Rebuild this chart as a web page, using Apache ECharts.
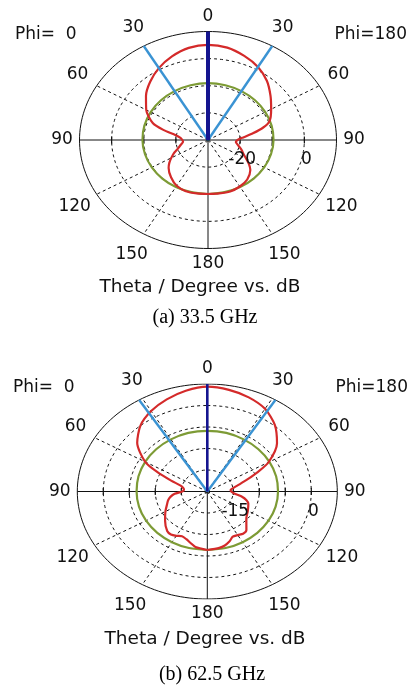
<!DOCTYPE html>
<html>
<head>
<meta charset="utf-8">
<script src="https://cdn.jsdelivr.net/npm/echarts@6/dist/echarts.min.js"></script>
<style>
  html, body { margin: 0; padding: 0; background: #fff; }
  #chart { width: 412px; height: 688px; }
</style>
</head>
<body>
<div id="chart"></div>
<script>
// 刻度与量程（dB）
const minA = -30, maxA = 10;
const ringsA = [-20, -10, 0];
const radialLabelsA = [-20, 0];
const beamA = [-30, 30];
const minB = -20, maxB = 5;
const ringsB = [-15, -10, -5, 0];
const radialLabelsB = [-15, 0];
const beamB = [-31.6, 31.6];
const angleTicks = [0, 30, 60, 90, 120, 150, 180];
const spokeAngles = [30, 60, 120, 150];

// (a) 33.5 GHz 红色方向图，左半 Phi=0，右半 Phi=180
const anglesA = [0, 10, 20, 30, 40, 50, 60, 70, 75, 80, 85, 90, 95, 100, 105, 110, 115, 120, 125, 130, 140, 150, 160, 170, 180];
const redA_phi0 = [5.1, 4.5, 2.8, 0.6, -2.0, -4.8, -7.8, -11.7, -15.6, -19.8, -21.4, -22.0, -22.2, -21.6, -20.8, -19.8, -18.2, -16.8, -15.3, -14.0, -12.1, -10.5, -9.9, -10.0, -10.1];
const redA_phi180 = [5.1, 4.6, 3.0, 1.1, -1.5, -4.6, -7.3, -9.6, -12.2, -15.8, -19.0, -20.8, -21.3, -20.7, -19.8, -18.8, -17.8, -16.3, -14.4, -12.8, -11.0, -10.2, -9.8, -10.0, -10.1];

// (b) 62.5 GHz
const anglesB = [0, 10, 20, 30, 40, 50, 60, 65, 70, 75, 80, 85, 90, 95, 100, 105, 110, 120, 130, 140, 145, 150, 155, 160, 165, 170, 180];
const redB_phi0 = [4.4, 3.8, 2.8, 1.6, 0.0, -2.4, -6.2, -9.5, -12.6, -14.7, -15.3, -15.5, -15.2, -13.7, -12.8, -12.2, -11.8, -10.7, -9.4, -8.0, -7.8, -8.1, -8.5, -8.2, -7.6, -6.9, -6.4];
const redB_phi180 = [4.4, 4.0, 3.3, 2.2, 0.2, -2.5, -6.4, -9.3, -11.8, -13.6, -14.8, -15.5, -15.4, -14.8, -13.3, -12.2, -11.6, -11.0, -10.2, -8.3, -8.0, -8.3, -8.4, -7.6, -7.0, -6.7, -6.4];

// 绿色曲线
const greenAngles = [0, 15, 30, 45, 60, 75, 90, 105, 120, 135, 150, 165, 180];
const greenA = [-9.0, -9.1, -9.2, -9.3, -9.4, -9.5, -9.6, -9.7, -9.8, -9.9, -10.0, -10.1, -10.1];
const greenB = [-5.9, -5.9, -6.0, -6.1, -6.2, -6.3, -6.4, -6.4, -6.4, -6.4, -6.4, -6.4, -6.4];

const chart = echarts.init(document.getElementById('chart'));
const FONT = 'DejaVu Sans, Verdana, sans-serif';
const TXT = '#111';

// 极坐标 -> 直角坐标（角度自上方顺时针，负角在左侧）
function toXY(theta, db, min) {
    const r = Math.max(db - min, 0);
    const t = theta * Math.PI / 180;
    return [r * Math.sin(t), r * Math.cos(t)];
}

function lineSeries(gi, data, lineStyle, z, smooth) {
    return {
        type: 'line', xAxisIndex: gi, yAxisIndex: gi, data: data,
        symbol: 'none', showSymbol: false, silent: true, animation: false,
        smooth: smooth || false, lineStyle: lineStyle, z: z
    };
}

function ringData(v, min) {
    const pts = [];
    for (let a = 0; a <= 360; a += 2) pts.push(toXY(a, v, min));
    return pts;
}

function curveData(angles, left, right, min) {
    const pts = [];
    for (let i = angles.length - 1; i >= 0; i--) pts.push(toXY(-angles[i], left[i], min));
    for (let i = 1; i < angles.length; i++) pts.push(toXY(angles[i], right[i], min));
    return pts;
}

function labelGap(a) {
    const s2 = Math.abs(Math.sin(2 * a * Math.PI / 180));
    const s = Math.sin(a * Math.PI / 180);
    return 15 + 6 * s2 + (a > 90 ? 4 * s2 : 0) + 2.5 * s * s;
}

const labelBase = {
    show: true, position: 'inside', formatter: '{b}', color: TXT, opacity: 1,
    fontSize: 17, fontFamily: FONT, textBorderWidth: 0
};

function buildPlot(gi, min, max, rings, radialLabels, beam, mainW, redAngles, red0, red180, green) {
    const list = [];
    const dashed = { color: '#111', width: 1, type: [3, 3] };
    // 外圈
    list.push(lineSeries(gi, ringData(max, min), { color: '#111', width: 1 }, 1));
    // 虚线圈
    rings.forEach(function (v) {
        list.push(lineSeries(gi, ringData(v, min), dashed, 1));
    });
    // 虚线径向
    spokeAngles.forEach(function (a) {
        [a, -a].forEach(function (t) {
            list.push(lineSeries(gi, [toXY(t, min, min), toXY(t, max, min)], dashed, 1));
        });
    });
    // 坐标轴十字线
    list.push(lineSeries(gi, [toXY(-90, max, min), toXY(90, max, min)], { color: '#111', width: 1 }, 2));
    list.push(lineSeries(gi, [toXY(0, max, min), toXY(180, max, min)], { color: '#111', width: 1 }, 2));
    // 水平轴上刻度
    const ticks = [];
    rings.forEach(function (v) {
        ticks.push(toXY(90, v, min));
        ticks.push(toXY(-90, v, min));
    });
    list.push({
        type: 'scatter', xAxisIndex: gi, yAxisIndex: gi, data: ticks, silent: true, animation: false,
        symbol: 'rect', symbolSize: [1.2, 7], itemStyle: { color: '#111', opacity: 1 }, z: 2
    });
    // 绿色
    list.push(lineSeries(gi, curveData(greenAngles, green, green, min), { color: '#7d9b35', width: 2.2 }, 3, 0.3));
    // 红色
    list.push(lineSeries(gi, curveData(redAngles, red0, red180, min), { color: '#d42a2a', width: 2.2 }, 4, 0.25));
    // 3dB 波束宽度线
    beam.forEach(function (t) {
        list.push(lineSeries(gi, [toXY(0, min, min), toXY(t, max, min)], { color: '#3a93d3', width: 2.4 }, 5));
    });
    // 主瓣方向
    list.push(lineSeries(gi, [toXY(0, min, min), toXY(0, max, min)], { color: '#15158f', width: mainW }, 6));

    // 角度标签
    const angleLabels = [];
    angleTicks.forEach(function (a) {
        const sides = (a === 0 || a === 180) ? [a] : [-a, a];
        sides.forEach(function (t) {
            const g = labelGap(a);
            const rad = t * Math.PI / 180;
            angleLabels.push({
                name: String(a),
                value: toXY(t, max, min),
                label: { offset: [Math.sin(rad) * g, -Math.cos(rad) * g] }
            });
        });
    });
    list.push({
        type: 'scatter', xAxisIndex: gi, yAxisIndex: gi, data: angleLabels, silent: true, animation: false,
        symbolSize: 0, z: 7, itemStyle: { color: TXT, opacity: 1 },
        label: labelBase
    });
    // 径向 dB 标签
    list.push({
        type: 'scatter', xAxisIndex: gi, yAxisIndex: gi, silent: true, animation: false, symbolSize: 0, z: 7,
        itemStyle: { color: TXT, opacity: 1 },
        data: radialLabels.map(function (v) { return { name: String(v), value: toXY(90, v, min) }; }),
        label: Object.assign({}, labelBase, { offset: [2, 20] })
    });
    return list;
}

function text(str, x, y, size, align, family, color) {
    return {
        type: 'text', silent: true,
        style: {
            text: str, x: x, y: y, fill: color || TXT,
            font: size + 'px ' + (family || FONT),
            align: align, textAlign: align, verticalAlign: 'middle', textVerticalAlign: 'middle'
        }
    };
}

const SERIF = '"Liberation Serif", "Times New Roman", serif';

const option = {
    animation: false,
    backgroundColor: '#fff',
    grid: [
        { left: 79.5, top: 31.5, width: 257, height: 217 },
        { left: 77.3, top: 384, width: 260, height: 215 }
    ],
    xAxis: [
        { type: 'value', gridIndex: 0, min: -(maxA - minA), max: maxA - minA, show: false },
        { type: 'value', gridIndex: 1, min: -(maxB - minB), max: maxB - minB, show: false }
    ],
    yAxis: [
        { type: 'value', gridIndex: 0, min: -(maxA - minA), max: maxA - minA, show: false },
        { type: 'value', gridIndex: 1, min: -(maxB - minB), max: maxB - minB, show: false }
    ],
    graphic: [
        text('Phi=  0', 15, 35, 17, 'left'),
        text('Phi=180', 407, 35, 17, 'right'),
        text('Theta / Degree vs. dB', 200, 287, 18.5, 'center'),
        text('(a) 33.5 GHz', 205, 318, 20, 'center', SERIF, '#000'),
        text('Phi=  0', 13, 388, 17, 'left'),
        text('Phi=180', 408, 388, 17, 'right'),
        text('Theta / Degree vs. dB', 205, 639, 18.5, 'center'),
        text('(b) 62.5 GHz', 212, 675, 20, 'center', SERIF, '#000')
    ],
    series: [].concat(
        buildPlot(0, minA, maxA, ringsA, radialLabelsA, beamA, 4, anglesA, redA_phi0, redA_phi180, greenA),
        buildPlot(1, minB, maxB, ringsB, radialLabelsB, beamB, 2.6, anglesB, redB_phi0, redB_phi180, greenB)
    )
};

chart.setOption(option);
window.addEventListener('resize', function () {
    chart.resize();
});
</script>
</body>
</html>
